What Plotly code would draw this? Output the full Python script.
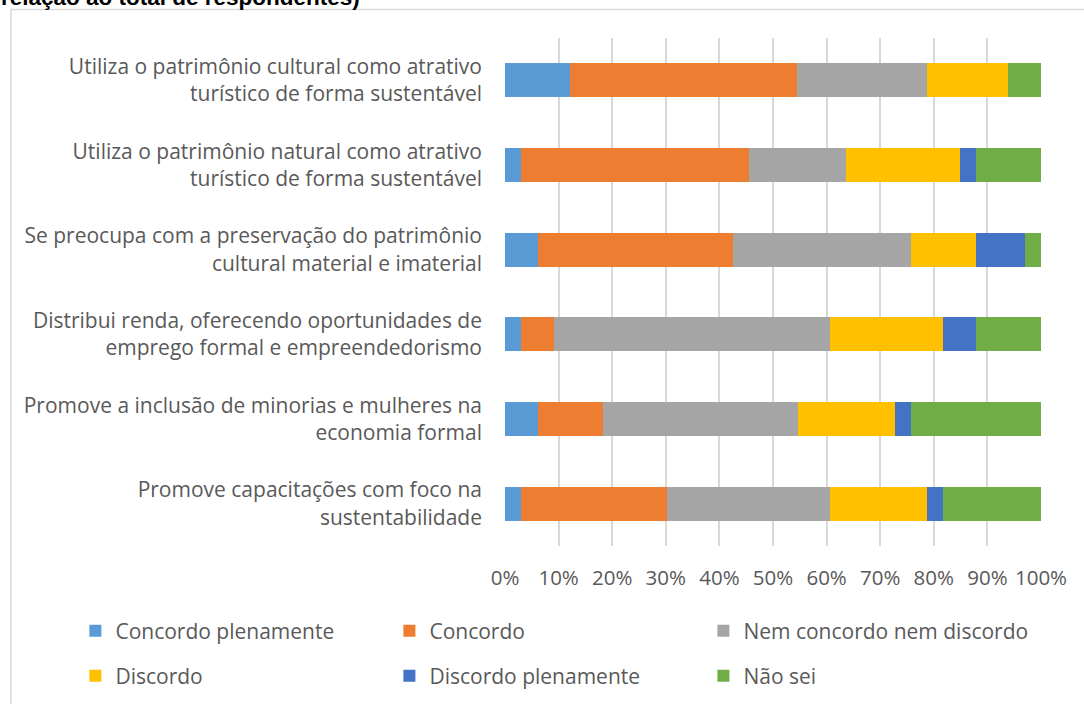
import plotly.graph_objects as go

# Survey statements (top to bottom) and response shares in percent
categories = [
    "Utiliza o patrimônio cultural como atrativo<br>turístico de forma sustentável",
    "Utiliza o patrimônio natural como atrativo<br>turístico de forma sustentável",
    "Se preocupa com a preservação do patrimônio<br>cultural material e imaterial",
    "Distribui renda, oferecendo oportunidades de<br>emprego formal e empreendedorismo",
    "Promove a inclusão de minorias e mulheres na<br>economia formal",
    "Promove capacitações com foco na<br>sustentabilidade",
]

concordo_plenamente = [12.1, 3.0, 6.1, 3.0, 6.1, 3.0]
concordo = [42.4, 42.4, 36.4, 6.1, 12.1, 27.3]
nem_concordo = [24.2, 18.2, 33.3, 51.5, 36.4, 30.3]
discordo = [15.2, 21.2, 12.1, 21.2, 18.2, 18.2]
discordo_plenamente = [0.0, 3.0, 9.1, 6.1, 3.0, 3.0]
nao_sei = [6.1, 12.1, 3.0, 12.1, 24.2, 18.2]

series = [
    ("Concordo plenamente", concordo_plenamente, "#5B9BD5", "legend"),
    ("Concordo", concordo, "#ED7D31", "legend"),
    ("Nem concordo nem discordo", nem_concordo, "#A5A5A5", "legend"),
    ("Discordo", discordo, "#FFC000", "legend2"),
    ("Discordo plenamente", discordo_plenamente, "#4472C4", "legend2"),
    ("Não sei", nao_sei, "#70AD47", "legend2"),
]

ticks = list(range(0, 101, 10))
tick_text = [f"{t}%" for t in ticks]

TEXT = "#595959"
GRID = "#D9D9D9"
FONT = "Open Sans"

W, H = 1084, 704
L, R, T, B = 505, 42.5, 38, 158
PW, PH = W - L - R, H - T - B


def px_x(p):
    return (p - L) / PW


def px_y(p):
    return (H - B - p) / PH


fig = go.Figure()
for name, vals, color, leg in series:
    fig.add_trace(go.Bar(
        y=categories, x=vals, name=name, orientation="h",
        marker=dict(color=color, line=dict(width=0)),
        legend=leg, hoverinfo="x+name",
        # last column of the first row needs room for its longer label
        legendwidth=300 if name == "Nem concordo nem discordo" else None,
    ))

# each legend entry spans entrywidth + 45 px, giving ~314 px columns
legend_common = dict(
    orientation="h", entrywidth=269, entrywidthmode="pixels",
    font=dict(family=FONT, size=21, color=TEXT),
    bgcolor="rgba(0,0,0,0)", xanchor="left", yanchor="middle",
    itemclick=False, itemdoubleclick=False, traceorder="normal",
)

fig.update_layout(
    width=W, height=H,
    margin=dict(l=L, r=R, t=T, b=B, pad=0, autoexpand=False),
    barmode="stack", barnorm="percent", bargap=0.6,
    paper_bgcolor="white", plot_bgcolor="white",
    font=dict(family=FONT, color=TEXT),
    legend=dict(x=px_x(75), y=px_y(631), **legend_common),
    legend2=dict(x=px_x(75), y=px_y(676), **legend_common),
    xaxis=dict(
        range=[0, 100], tickvals=ticks, ticktext=tick_text,
        showgrid=True, gridcolor=GRID, gridwidth=1.5,
        zeroline=False, showline=False, ticks="",
        tickfont=dict(family=FONT, size=20.5, color=TEXT),
        ticklabelstandoff=17, fixedrange=True,
    ),
    yaxis=dict(
        autorange="reversed", showgrid=False, zeroline=False,
        showline=False, ticks="",
        tickfont=dict(family=FONT, size=21, color=TEXT),
        ticklabelstandoff=22, fixedrange=True,
    ),
    shapes=[dict(
        type="rect", xref="paper", yref="paper",
        x0=px_x(10.5), x1=px_x(1095), y0=px_y(9.5), y1=px_y(715),
        line=dict(color=GRID, width=1.5), fillcolor="rgba(0,0,0,0)",
        layer="below",
    )],
    annotations=[dict(
        text="<b>relação ao total de respondentes)</b>",
        xref="paper", yref="paper", x=px_x(-1), y=px_y(-2),
        xanchor="left", yanchor="middle", showarrow=False,
        font=dict(family="Liberation Sans", size=22.5, color="black"),
    )],
)

fig.write_html("out.html")
